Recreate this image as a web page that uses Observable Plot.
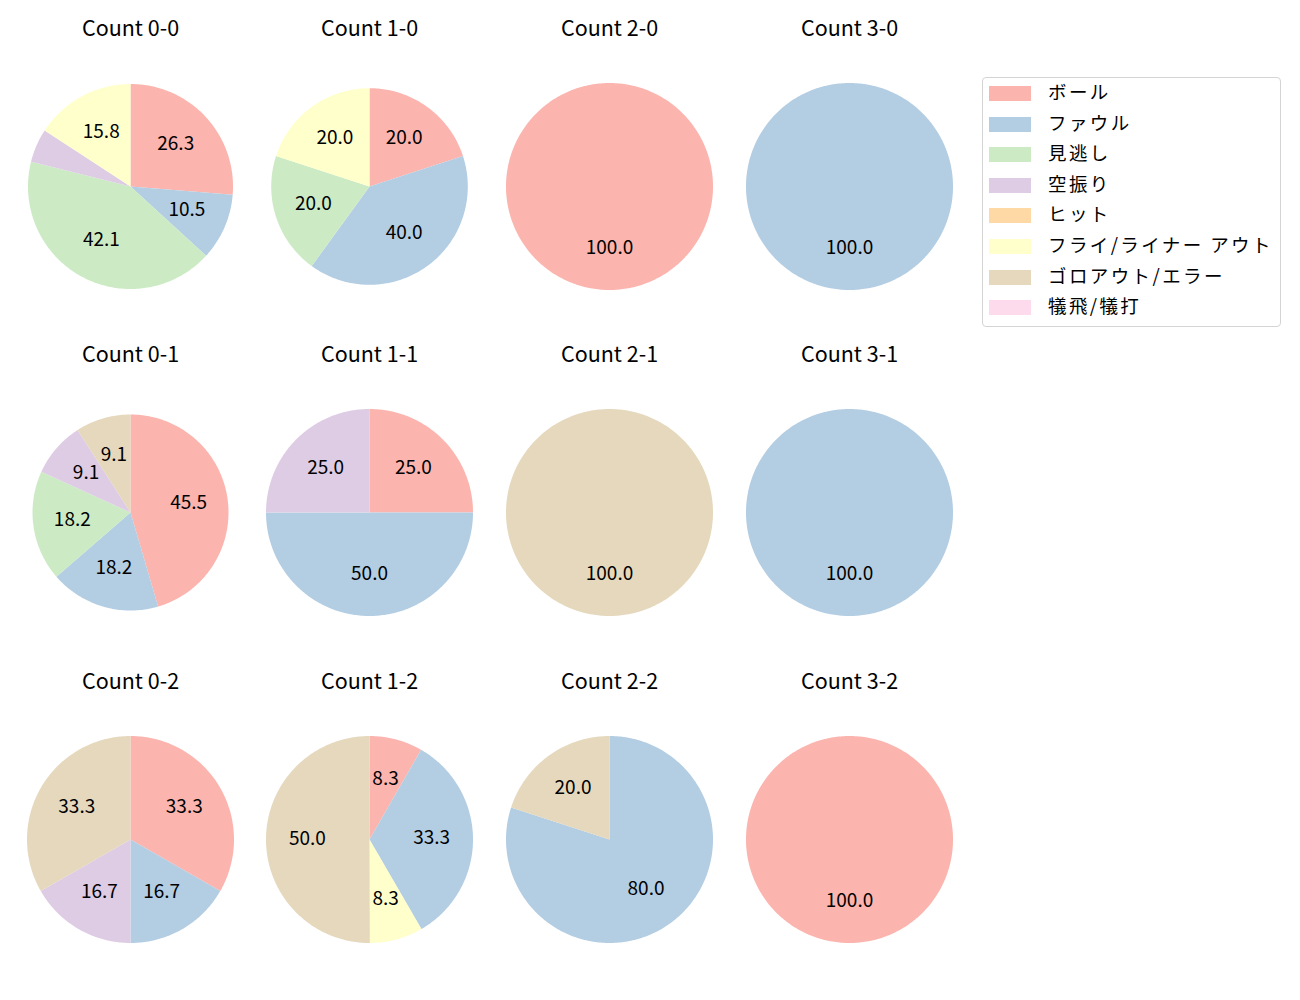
<!DOCTYPE html>
<html>
<head>
<meta charset="utf-8">
<script src="https://cdn.jsdelivr.net/npm/d3@7"></script>
<script src="https://cdn.jsdelivr.net/npm/@observablehq/plot@0.6"></script>
<style>
  body { margin: 0; background: #fff; font-family: "Noto Sans CJK JP", "Noto Sans", sans-serif; }
  #root { position: relative; width: 1300px; height: 1000px; overflow: hidden; }
  .panel { position: absolute; }
  .legend { position: absolute; left: 982px; top: 77px; width: 299px; height: 250px;
            border: 1px solid #d4d4d4; border-radius: 4px; box-sizing: border-box; background: #fff; }
  .legend .sw { position: absolute; left: 6px; width: 42px; height: 15px; }
  .legend .lab { position: absolute; left: 65px; font-size: 18.5px; white-space: nowrap; color: #000; letter-spacing: 2.4px; line-height: 20px; }
</style>
</head>
<body>
<div id="root"></div>
<script>
// ---- data ----
const categories = ["ボール", "ファウル", "見逃し", "空振り", "ヒット", "フライ/ライナー アウト", "ゴロアウト/エラー", "犠飛/犠打"];
const colors = ["#fbb4ae", "#b3cde3", "#ccebc5", "#decbe4", "#fed9a6", "#ffffcc", "#e5d8bd", "#fddaec"];
const balls = [0, 1, 2, 3];
const strikes = [0, 1, 2];
// percentage per category, in the order of `categories`
const count00 = [26.3, 10.5, 42.1, 5.3, 0, 15.8, 0, 0];
const count10 = [20.0, 40.0, 20.0, 0, 0, 20.0, 0, 0];
const count20 = [100.0, 0, 0, 0, 0, 0, 0, 0];
const count30 = [0, 100.0, 0, 0, 0, 0, 0, 0];
const count01 = [45.5, 18.2, 18.2, 9.1, 0, 0, 9.1, 0];
const count11 = [25.0, 50.0, 0, 25.0, 0, 0, 0, 0];
const count21 = [0, 0, 0, 0, 0, 0, 100.0, 0];
const count31 = [0, 100.0, 0, 0, 0, 0, 0, 0];
const count02 = [33.3, 16.7, 0, 16.7, 0, 0, 33.3, 0];
const count12 = [8.3, 33.3, 0, 0, 0, 8.3, 50.0, 0];
const count22 = [0, 80.0, 0, 0, 0, 0, 20.0, 0];
const count32 = [100.0, 0, 0, 0, 0, 0, 0, 0];
const countTable = {
  "0-0": count00, "1-0": count10, "2-0": count20, "3-0": count30,
  "0-1": count01, "1-1": count11, "2-1": count21, "3-1": count31,
  "0-2": count02, "1-2": count12, "2-2": count22, "3-2": count32
};

// ---- layout / style ----
const colX0 = 129.5, colStep = 239.7;
const rowY0 = 185.5, rowStep = 326.6;
const panelW = 240, panelH = 300, centerFromTop = 170;
const defaultRadius = 103.5;
const radiusOverride = { "0-0": 102.5, "1-0": 98.3, "0-1": 98.0 };
const labelMin = 6; // hide labels of very small wedges

const root = document.getElementById("root");

for (const s of strikes) {
  for (const b of balls) {
    const key = `${b}-${s}`;
    const values = countTable[key];
    const R = radiusOverride[key] ?? defaultRadius;
    const rows = categories.map((c, i) => ({cat: c, v: values[i]})).filter(d => d.v > 0);
    const arcs = d3.pie().sort(null).value(d => d.v)(rows);
    const poly = [];
    const labels = [];
    arcs.forEach((a, k) => {
      const n = Math.max(2, Math.ceil((a.endAngle - a.startAngle) / (Math.PI / 180)));
      if (a.endAngle - a.startAngle < 2 * Math.PI - 1e-9) poly.push({id: k, cat: a.data.cat, x: 0, y: 0});
      for (let j = 0; j <= n; j++) {
        const t = a.startAngle + (a.endAngle - a.startAngle) * j / n;
        poly.push({id: k, cat: a.data.cat, x: R * Math.sin(t), y: R * Math.cos(t)});
      }
      const mid = (a.startAngle + a.endAngle) / 2;
      if (a.data.v >= labelMin) {
        labels.push({x: 0.6 * R * Math.sin(mid), y: 0.6 * R * Math.cos(mid), text: a.data.v.toFixed(1)});
      }
    });

    const plot = Plot.plot({
      width: panelW, height: panelH,
      margin: 0,
      x: {domain: [-panelW / 2, panelW / 2], axis: null},
      y: {domain: [centerFromTop - panelH, centerFromTop], axis: null},
      color: {domain: categories, range: colors, type: "ordinal"},
      style: {background: "transparent", fontFamily: '"Noto Sans CJK JP", "Noto Sans", sans-serif', overflow: "visible"},
      marks: [
        Plot.line(poly, {x: "x", y: "y", z: "id", fill: "cat", stroke: "none", curve: "linear"}),
        Plot.text(labels, {x: "x", y: "y", text: "text", fontSize: 19, fill: "#000", dy: -1}),
        Plot.text([`Count ${key}`], {x: () => 0, y: () => 157, text: d => d, fontSize: 21.5, fill: "#000", dy: -0.5})
      ]
    });
    const div = document.createElement("div");
    div.className = "panel";
    div.style.left = (colX0 + b * colStep - panelW / 2) + "px";
    div.style.top = (rowY0 + s * rowStep - centerFromTop) + "px";
    div.appendChild(plot);
    root.appendChild(div);
  }
}

// legend
const legend = document.createElement("div");
legend.className = "legend";
categories.forEach((c, i) => {
  const y = 15.5 + i * 30.6;
  const sw = document.createElement("div");
  sw.className = "sw";
  sw.style.top = (y - 7.5) + "px";
  sw.style.background = colors[i];
  const lab = document.createElement("div");
  lab.className = "lab";
  lab.style.top = (y - 12.5) + "px";
  lab.textContent = c;
  legend.appendChild(sw);
  legend.appendChild(lab);
});
root.appendChild(legend);
</script>
</body>
</html>
